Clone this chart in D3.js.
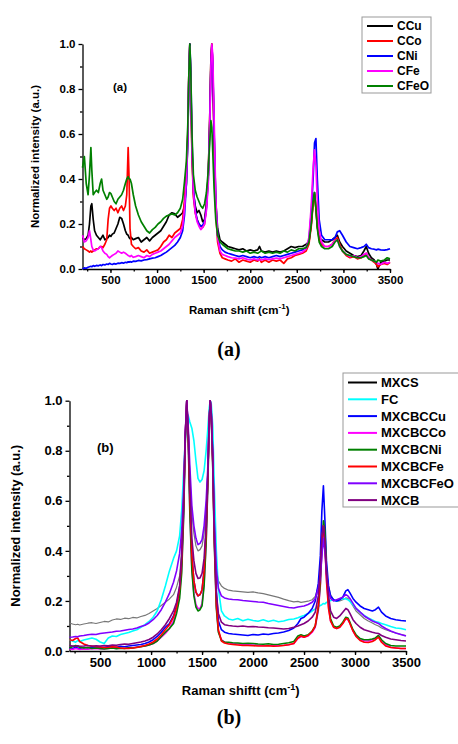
<!DOCTYPE html>
<html>
<head>
<meta charset="utf-8">
<script src="https://cdn.jsdelivr.net/npm/d3@7"></script>
<style>
  body { margin: 0; background: #fff; }
  svg { display: block; font-family: "Liberation Sans", Arial, sans-serif; }
  .tick text { font-weight: bold; }
</style>
</head>
<body>
<div id="chart"></div>
<script>
// ---- panel (a) data: Raman shift grid and normalized intensities ----
const shiftA = [
  200, 220, 240, 260, 275, 290, 300, 315, 330, 350,
  370, 390, 405, 420, 440, 460, 475, 490, 505, 520,
  540, 560, 580, 600, 620, 640, 660, 675, 690, 700,
  710, 725, 745, 770, 800, 830, 860, 890, 920, 950,
  980, 1010, 1040, 1070, 1100, 1130, 1160, 1190, 1220, 1250,
  1275, 1295, 1315, 1330, 1342, 1352, 1362, 1375, 1390, 1410,
  1430, 1450, 1470, 1490, 1510, 1530, 1550, 1565, 1578, 1588,
  1598, 1612, 1630, 1650, 1675, 1700, 1730, 1760, 1800, 1840,
  1880, 1920, 1960, 2000, 2040, 2080, 2100, 2120, 2160, 2200,
  2240, 2280, 2320, 2360, 2400, 2440, 2480, 2520, 2560, 2600,
  2630, 2655, 2675, 2690, 2705, 2720, 2740, 2765, 2800, 2840,
  2880, 2910, 2935, 2960, 2990, 3030, 3070, 3110, 3150, 3190,
  3220, 3245, 3270, 3300, 3330, 3355, 3370, 3400, 3440, 3470,
  3500
];
const cCu = [
  .14, .13, .135, .15, .20, .28, .29, .22, .17, .15,
  .14, .13, .14, .15, .13, .135, .14, .15, .145, .155,
  .16, .18, .20, .23, .225, .20, .17, .155, .15, .14,
  .135, .14, .13, .135, .14, .12, .13, .14, .125, .14,
  .15, .16, .17, .19, .21, .24, .25, .245, .23, .24,
  .25, .28, .38, .58, .88, 1.0, .84, .52, .34, .28,
  .25, .26, .24, .21, .22, .29, .42, .66, .93, 1.0,
  .9, .6, .3, .18, .13, .12, .11, .10, .095, .09,
  .085, .09, .08, .085, .08, .085, .10, .08, .075, .08,
  .075, .08, .075, .08, .09, .10, .095, .10, .10, .11,
  .12, .20, .30, .34, .27, .19, .14, .13, .12, .12,
  .13, .14, .15, .12, .10, .08, .07, .06, .055, .06,
  .08, .10, .07, .05, .04, .02, .0, .03, .035, .04,
  .04
];
const cCo = [
  .10, .09, .085, .08, .075, .08, .075, .08, .085, .09,
  .09, .10, .10, .095, .11, .13, .22, .27, .28, .27,
  .26, .27, .25, .27, .28, .26, .28, .33, .54, .40,
  .18, .11, .10, .09, .095, .08, .075, .085, .07, .075,
  .08, .085, .10, .12, .13, .15, .14, .16, .17, .18,
  .22, .31, .44, .60, .88, 1.0, .82, .50, .32, .25,
  .22, .20, .19, .185, .20, .28, .42, .66, .93, 1.0,
  .88, .55, .25, .12, .07, .05, .045, .04, .035, .045,
  .03, .04, .035, .03, .04, .035, .045, .03, .04, .03,
  .04, .035, .04, .025, .045, .05, .06, .065, .07, .08,
  .11, .19, .29, .33, .27, .19, .13, .11, .10, .10,
  .11, .13, .14, .11, .08, .06, .05, .055, .045, .05,
  .06, .07, .05, .04, .03, .02, .01, .02, .025, .02,
  .03
];
const cNi = [
  .0, .005, .003, .008, .01, .012, .01, .015, .012, .016,
  .014, .018, .015, .02, .018, .022, .02, .025, .022, .02,
  .024, .022, .026, .025, .028, .026, .03, .028, .032, .03,
  .033, .03, .035, .034, .038, .036, .04, .042, .045, .048,
  .05, .055, .06, .068, .075, .085, .095, .105, .12, .14,
  .17, .24, .38, .57, .86, 1.0, .88, .57, .36, .26,
  .22, .20, .19, .195, .21, .27, .40, .63, .90, .99,
  .92, .62, .3, .15, .1, .085, .075, .07, .065, .06,
  .055, .06, .055, .05, .055, .05, .055, .05, .055, .05,
  .055, .06, .055, .06, .065, .07, .075, .08, .085, .095,
  .13, .25, .40, .56, .58, .40, .22, .15, .13, .13,
  .13, .14, .165, .17, .15, .12, .10, .095, .09, .095,
  .10, .11, .095, .09, .088, .085, .088, .085, .084, .086,
  .09
];
const cFe = [
  .15, .12, .125, .14, .17, .13, .10, .085, .08, .085,
  .09, .10, .095, .08, .07, .065, .055, .05, .055, .06,
  .065, .07, .08, .075, .07, .075, .07, .065, .06, .058,
  .055, .06, .052, .055, .06, .055, .05, .06, .055, .065,
  .07, .075, .08, .09, .10, .11, .125, .14, .15, .16,
  .19, .27, .40, .58, .87, .99, .84, .54, .34, .25,
  .21, .19, .175, .185, .20, .26, .38, .62, .90, 1.0,
  .95, .68, .32, .14, .08, .065, .06, .055, .05, .048,
  .045, .05, .044, .04, .045, .04, .042, .04, .045, .042,
  .045, .048, .045, .05, .055, .06, .065, .07, .075, .09,
  .14, .28, .45, .53, .46, .30, .17, .12, .10, .10,
  .11, .125, .13, .10, .08, .065, .055, .06, .05, .055,
  .065, .07, .05, .04, .035, .03, .025, .02, .03, .025,
  .03
];
const cFeO = [
  .45, .50, .38, .33, .42, .54, .44, .33, .34, .35,
  .34, .38, .40, .35, .33, .31, .32, .34, .335, .32,
  .30, .29, .31, .32, .33, .35, .38, .40, .41, .40,
  .40, .38, .33, .28, .24, .21, .19, .17, .16, .175,
  .185, .20, .21, .225, .235, .24, .245, .24, .25, .27,
  .31, .39, .48, .64, .88, 1.0, .88, .60, .42, .35,
  .32, .30, .28, .27, .29, .34, .44, .56, .66, .63,
  .52, .36, .22, .15, .12, .11, .10, .09, .085, .08,
  .08, .075, .08, .07, .075, .07, .075, .08, .07, .075,
  .07, .075, .07, .08, .075, .085, .08, .09, .09, .095,
  .12, .2, .3, .34, .27, .18, .12, .1, .09, .09,
  .10, .12, .13, .10, .08, .065, .06, .055, .05, .05,
  .055, .06, .045, .04, .035, .03, .04, .035, .04, .05,
  .045
];
const namesA = ["CCu", "CCo", "CNi", "CFe", "CFeO"];
const colorsA = ["#000000", "#ff0000", "#0000ff", "#ff00ff", "#008000"];

// ---- panel (b) data ----
const shiftB = [
  200, 230, 260, 280, 300, 340, 380, 420, 460, 500,
  540, 580, 620, 660, 700, 740, 780, 820, 860, 900,
  940, 980, 1020, 1060, 1100, 1140, 1180, 1220, 1250, 1280,
  1300, 1320, 1335, 1350, 1365, 1380, 1400, 1420, 1440, 1460,
  1480, 1500, 1520, 1540, 1555, 1570, 1580, 1590, 1605, 1620,
  1640, 1660, 1690, 1720, 1760, 1800, 1850, 1900, 1950, 2000,
  2050, 2100, 2150, 2200, 2250, 2300, 2350, 2400, 2440, 2470,
  2500, 2540, 2580, 2610, 2640, 2660, 2675, 2690, 2705, 2720,
  2740, 2760, 2790, 2820, 2850, 2880, 2910, 2930, 2950, 2980,
  3010, 3050, 3090, 3130, 3170, 3200, 3230, 3260, 3300, 3350,
  3400, 3450, 3500
];
const mxcs = [
  .112, .108, .105, .107, .104, .108, .111, .113, .110, .114,
  .118, .116, .124, .128, .126, .131, .129, .134, .132, .138,
  .142, .150, .160, .170, .182, .195, .208, .225, .255, .30,
  .40, .58, .84, 1.0, .88, .70, .55, .47, .42, .40,
  .405, .42, .47, .57, .70, .92, 1.0, .95, .76, .50,
  .33, .28, .26, .25, .243, .240, .238, .236, .234, .236,
  .232, .229, .224, .219, .214, .207, .201, .196, .198, .194,
  .196, .199, .205, .218, .26, .32, .40, .44, .40, .32,
  .26, .225, .205, .198, .2, .205, .212, .21, .2, .18,
  .16, .145, .13, .12, .112, .105, .1, .092, .085, .078,
  .072, .066, .062
];
const fc = [
  .045, .040, .035, .042, .038, .044, .048, .052, .047, .036,
  .030, .052, .060, .058, .066, .070, .074, .080, .085, .095,
  .105, .118, .135, .160, .205, .260, .320, .370, .400, .460,
  .560, .720, .840, .95, .94, .915, .89, .84, .76, .69,
  .675, .685, .72, .80, .88, .97, 1.0, .99, .90, .66,
  .40, .25, .16, .14, .128, .124, .130, .121, .127, .122,
  .119, .125, .118, .123, .117, .120, .126, .128, .133, .138,
  .142, .150, .160, .168, .178, .182, .185, .190, .188, .194,
  .198, .202, .204, .199, .206, .210, .208, .205, .198, .185,
  .170, .155, .142, .132, .124, .118, .115, .110, .105, .098,
  .092, .090, .085
];
const mxcbcCu = [
  .012, .010, .015, .012, .010, .014, .012, .016, .013, .015,
  .014, .018, .016, .015, .019, .017, .020, .022, .024, .026,
  .030, .036, .045, .058, .075, .095, .110, .140, .180, .250,
  .36, .58, .85, 1.0, .86, .62, .38, .28, .235, .22,
  .225, .245, .32, .48, .68, .92, 1.0, .95, .78, .50,
  .24, .12, .085, .075, .07, .068, .066, .064, .062, .066,
  .064, .068, .066, .070, .072, .076, .082, .092, .11, .13,
  .135, .15, .17, .20, .27, .38, .56, .66, .52, .36,
  .26, .22, .205, .20, .205, .215, .24, .245, .232, .21,
  .195, .18, .17, .165, .16, .165, .175, .155, .14, .13,
  .125, .122, .12
];
const mxcbcCo = [
  .008, .006, .010, .008, .006, .008, .007, .009, .010, .008,
  .009, .010, .012, .010, .011, .012, .014, .013, .016, .018,
  .020, .024, .030, .040, .055, .070, .090, .120, .160, .230,
  .33, .56, .84, 1.0, .84, .57, .33, .23, .185, .17,
  .17, .19, .27, .44, .65, .91, 1.0, .94, .74, .44,
  .18, .08, .045, .035, .032, .030, .028, .026, .025, .024,
  .023, .022, .022, .021, .022, .023, .025, .030, .050, .058,
  .055, .060, .075, .095, .16, .26, .40, .50, .44, .30,
  .18, .12, .095, .09, .095, .11, .13, .125, .11, .08,
  .06, .045, .04, .04, .045, .05, .06, .04, .025, .015,
  .012, .010, .010
];
const mxcbcNi = [
  .012, .018, .022, .020, .015, .012, .014, .010, .012, .010,
  .008, .010, .012, .009, .011, .010, .013, .012, .015, .017,
  .020, .024, .030, .040, .058, .075, .090, .110, .150, .210,
  .31, .54, .83, 1.0, .83, .55, .32, .22, .175, .16,
  .165, .18, .26, .43, .64, .90, 1.0, .94, .73, .43,
  .17, .075, .042, .036, .035, .033, .032, .030, .031, .030,
  .028, .027, .029, .026, .027, .030, .033, .038, .060, .065,
  .060, .065, .080, .10, .17, .27, .42, .52, .48, .32,
  .20, .13, .10, .095, .10, .115, .135, .132, .115, .085,
  .065, .05, .045, .045, .048, .052, .062, .045, .03, .022,
  .020, .020, .020
];
const mxcbcFe = [
  .045, .042, .050, .052, .038, .028, .022, .020, .018, .016,
  .014, .015, .017, .016, .012, .010, .010, .012, .014, .018,
  .022, .028, .036, .048, .065, .085, .105, .135, .175, .250,
  .36, .60, .86, 1.0, .86, .62, .38, .28, .235, .22,
  .225, .245, .32, .48, .68, .92, 1.0, .95, .76, .46,
  .19, .085, .04, .032, .028, .026, .024, .022, .022, .021,
  .020, .020, .021, .019, .020, .022, .025, .030, .052, .060,
  .055, .062, .078, .10, .18, .30, .44, .50, .42, .28,
  .17, .12, .095, .09, .095, .11, .13, .128, .11, .08,
  .058, .042, .035, .034, .038, .045, .055, .035, .020, .014,
  .012, .010, .010
];
const mxcbcFeO = [
  .055, .056, .058, .057, .060, .062, .065, .067, .066, .070,
  .072, .074, .076, .079, .080, .083, .086, .088, .092, .098,
  .103, .112, .125, .142, .165, .195, .230, .275, .320, .390,
  .48, .65, .87, 1.0, .89, .74, .58, .50, .45, .425,
  .43, .445, .50, .60, .72, .92, 1.0, .96, .78, .52,
  .33, .25, .22, .212, .208, .206, .205, .202, .200, .198,
  .196, .195, .190, .186, .182, .178, .174, .172, .176, .178,
  .180, .186, .195, .21, .25, .30, .38, .45, .40, .31,
  .24, .21, .20, .205, .21, .215, .225, .22, .21, .19,
  .17, .155, .14, .13, .12, .115, .11, .10, .09, .08,
  .072, .066, .060
];
const mxcb = [
  .022, .020, .018, .021, .019, .020, .022, .019, .021, .020,
  .022, .021, .024, .023, .026, .028, .027, .030, .033, .036,
  .040, .046, .055, .068, .085, .105, .130, .160, .195, .260,
  .38, .60, .86, 1.0, .87, .66, .45, .36, .31, .29,
  .292, .31, .37, .50, .68, .92, 1.0, .95, .76, .46,
  .23, .15, .115, .105, .102, .100, .098, .100, .097, .098,
  .096, .095, .093, .092, .090, .088, .090, .095, .10, .105,
  .11, .12, .135, .155, .22, .32, .46, .50, .44, .32,
  .22, .16, .135, .13, .14, .155, .17, .165, .15, .125,
  .11, .095, .085, .08, .075, .072, .07, .062, .055, .048,
  .045, .042, .040
];
const namesB = ["MXCS", "FC", "MXCBCCu", "MXCBCCo", "MXCBCNi", "MXCBCFe", "MXCBCFeO", "MXCB"];
const colorsB = ["#000000", "#00ffff", "#0000ff", "#ff00ff", "#008000", "#ff0000", "#8000ff", "#800080"];

const xTicks = [500, 1000, 1500, 2000, 2500, 3000, 3500];
const yTicks = [0, 0.2, 0.4, 0.6, 0.8, 1.0];

const W = 458, H = 744;
const svg = d3.select("#chart").append("svg").attr("width", W).attr("height", H);

function drawPanel(opt) {
  const x = d3.scaleLinear().domain([200, 3500]).range([opt.left, opt.right]);
  const y = d3.scaleLinear().domain([0, 1]).range([opt.bottom, opt.top]);
  const g = svg.append("g");

  // minor ticks first (no labels)
  g.append("g")
    .attr("transform", `translate(0,${opt.bottom})`)
    .call(d3.axisBottom(x).tickValues(d3.range(250, 3501, 250)).tickSize(2.5).tickFormat(""))
    .call((a) => a.select(".domain").remove());
  g.append("g")
    .attr("transform", `translate(${opt.left},0)`)
    .call(d3.axisLeft(y).tickValues(d3.range(0.1, 1, 0.2)).tickSize(2.5).tickFormat(""))
    .call((a) => a.select(".domain").remove());

  const xAxis = g.append("g")
    .attr("transform", `translate(0,${opt.bottom})`)
    .call(d3.axisBottom(x).tickValues(xTicks).tickSize(4).tickSizeOuter(0).tickPadding(3).tickFormat(d3.format("d")));
  xAxis.selectAll("text").attr("font-size", opt.tickFont).attr("fill", "#000");

  const yAxis = g.append("g")
    .attr("transform", `translate(${opt.left},0)`)
    .call(d3.axisLeft(y).tickValues(yTicks).tickSize(4).tickSizeOuter(0).tickPadding(3).tickFormat(d3.format(".1f")));
  yAxis.selectAll("text").attr("font-size", opt.tickFont).attr("fill", "#000");

  g.selectAll(".domain, .tick line").attr("stroke", "#000").attr("stroke-width", 1.3);

  // spectra
  const line = d3.line().x((d) => x(d[0])).y((d) => y(d[1]));
  opt.series.forEach((s, i) => {
    if (s.length !== opt.shift.length) console.error("length mismatch", opt.names[i], s.length);
    const pts = opt.shift.map((v, j) => [v, s[j]]);
    g.append("path")
      .datum(pts)
      .attr("fill", "none")
      .attr("stroke", opt.lineColors ? opt.lineColors[i] : opt.colors[i])
      .attr("stroke-width", opt.lineWidths ? opt.lineWidths[i] : 1.7)
      .attr("stroke-linejoin", "round")
      .attr("d", line);
  });

  // inner label
  g.append("text")
    .attr("x", opt.tagX).attr("y", opt.tagY)
    .attr("font-size", opt.tickFont).attr("font-weight", "bold")
    .attr("dominant-baseline", "middle")
    .text(opt.tag);

  // axis titles
  const xt = g.append("text")
    .attr("x", (opt.left + opt.right) / 2 + 3).attr("y", opt.xTitleY)
    .attr("text-anchor", "middle").attr("font-size", opt.tickFont).attr("font-weight", "bold");
  xt.append("tspan").text(opt.xTitle + " (cm");
  xt.append("tspan").attr("dy", -5).attr("font-size", opt.tickFont * 0.7).text("-1");
  xt.append("tspan").attr("dy", 5).text(")");

  g.append("text")
    .attr("transform", `translate(${opt.yTitleX},${(opt.top + opt.bottom) / 2}) rotate(-90)`)
    .attr("text-anchor", "middle").attr("dominant-baseline", "middle")
    .attr("font-size", opt.tickFont).attr("font-weight", "bold")
    .text("Normalized intensity (a.u.)");

  // legend
  const L = opt.legend;
  g.append("rect")
    .attr("x", L.x).attr("y", L.y).attr("width", L.w).attr("height", L.h)
    .attr("fill", "#fff").attr("stroke", "#999").attr("stroke-width", 1);
  opt.names.forEach((n, i) => {
    const yy = L.y + L.first + i * L.step;
    g.append("line")
      .attr("x1", L.x + 5).attr("x2", L.x + 5 + L.lineLen)
      .attr("y1", yy).attr("y2", yy)
      .attr("stroke", opt.colors[i]).attr("stroke-width", 2);
    g.append("text")
      .attr("x", L.x + 9 + L.lineLen).attr("y", yy)
      .attr("dominant-baseline", "central")
      .attr("font-size", L.font).attr("font-weight", "bold")
      .text(n);
  });
}

drawPanel({
  left: 82.5, right: 390, top: 44, bottom: 269,
  shift: shiftA, series: [cCu, cCo, cNi, cFe, cFeO],
  names: namesA, colors: colorsA,
  tickFont: 11.5, tag: "(a)", tagX: 113, tagY: 88,
  xTitle: "Raman shift", xTitleY: 314, yTitleX: 36,
  legend: { x: 362, y: 17, w: 69, h: 76, first: 9, step: 15, lineLen: 26, font: 12 }
});

drawPanel({
  left: 69.5, right: 406, top: 400.7, bottom: 651,
  shift: shiftB, series: [mxcs, fc, mxcbcCu, mxcbcCo, mxcbcNi, mxcbcFe, mxcbcFeO, mxcb],
  names: namesB, colors: colorsB,
  lineColors: ["#777777", "#00ffff", "#0000ff", "#ff00ff", "#008000", "#ff0000", "#8000ff", "#800080"],
  lineWidths: [1.2, 1.6, 1.6, 1.6, 1.6, 1.6, 1.6, 1.6],
  tickFont: 13, tag: "(b)", tagX: 97, tagY: 449,
  xTitle: "Raman shiftt", xTitleY: 695, yTitleX: 17,
  legend: { x: 343, y: 373, w: 117, h: 134, first: 9.5, step: 16.8, lineLen: 29, font: 13 }
});

// figure captions
[["(a)", 351], ["(b)", 719]].forEach(([t, yy]) => {
  svg.append("text")
    .attr("x", 229).attr("y", yy)
    .attr("text-anchor", "middle").attr("dominant-baseline", "middle")
    .attr("font-family", "'Liberation Serif', 'DejaVu Serif', serif")
    .attr("font-size", 20).attr("font-weight", "bold")
    .text(t);
});
</script>
</body>
</html>
